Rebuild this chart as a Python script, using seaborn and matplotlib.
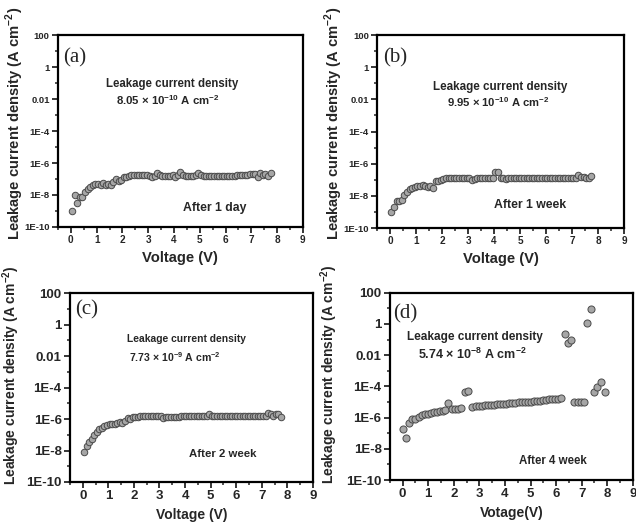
import numpy as np
import pandas as pd
import matplotlib
matplotlib.use("Agg")
import matplotlib.pyplot as plt
from matplotlib.ticker import FixedLocator, MultipleLocator, NullFormatter
import seaborn as sns

# voltage sweep used for panels (a)-(c)
sweep_v = [0.05, 0.15, 0.25, 0.35, 0.45, 0.55, 0.65, 0.75, 0.85, 0.95,
           1.05, 1.15, 1.25, 1.35, 1.45, 1.55, 1.65, 1.75, 1.85, 1.95,
           2.05, 2.15, 2.25, 2.35, 2.45, 2.55, 2.65, 2.75, 2.85, 2.95,
           3.05, 3.15, 3.25, 3.35, 3.45, 3.55, 3.65, 3.75, 3.85, 3.95,
           4.05, 4.15, 4.25, 4.35, 4.45, 4.55, 4.65, 4.75, 4.85, 4.95,
           5.05, 5.15, 5.25, 5.35, 5.45, 5.55, 5.65, 5.75, 5.85, 5.95,
           6.05, 6.15, 6.25, 6.35, 6.45, 6.55, 6.65, 6.75, 6.85, 6.95,
           7.05, 7.15, 7.25, 7.35, 7.45, 7.55, 7.65, 7.75]

# log10 of leakage current density (A cm^-2)
log_j_1day = [-9.0, -8.0, -8.5, -8.1, -8.1, -7.8, -7.65, -7.5, -7.4, -7.3,
              -7.3, -7.35, -7.25, -7.35, -7.3, -7.4, -7.2, -7.0, -7.1, -7.05,
              -6.9, -6.85, -6.8, -6.78, -6.78, -6.77, -6.78, -6.78, -6.78, -6.78,
              -6.8, -6.9, -6.8, -6.6, -6.75, -6.8, -6.8, -6.82, -6.8, -6.78,
              -6.85, -6.75, -6.55, -6.72, -6.8, -6.8, -6.82, -6.8, -6.78, -6.65,
              -6.72, -6.8, -6.8, -6.82, -6.8, -6.8, -6.82, -6.8, -6.8, -6.8,
              -6.81, -6.8, -6.8, -6.79, -6.78, -6.76, -6.75, -6.74, -6.72, -6.68,
              -6.66, -6.66, -6.9, -6.65, -6.75, -6.7, -6.8, -6.62]

log_j_1week = [-9.0, -8.7, -8.3, -8.3, -8.25, -7.95, -7.75, -7.6, -7.5, -7.45,
               -7.4, -7.38, -7.3, -7.4, -7.45, -7.38, -7.5, -7.1, -7.1, -7.0,
               -6.95, -6.9, -6.87, -6.88, -6.88, -6.88, -6.88, -6.88, -6.88, -6.9,
               -6.9, -7.0, -6.95, -6.92, -6.92, -6.92, -6.92, -6.92, -6.92, -6.9,
               -6.5, -6.52, -6.9, -6.9, -6.98, -6.92, -6.9, -6.92, -6.9, -6.9,
               -6.92, -6.92, -6.92, -6.9, -6.92, -6.92, -6.92, -6.92, -6.92, -6.92,
               -6.92, -6.92, -6.92, -6.9, -6.9, -6.9, -6.9, -6.9, -6.9, -6.9,
               -6.88, -6.9, -6.7, -6.85, -6.82, -6.9, -6.92, -6.75]

log_j_2week = [-8.1, -7.7, -7.45, -7.25, -7.0, -6.8, -6.65, -6.55, -6.45, -6.35,
               -6.3, -6.3, -6.3, -6.28, -6.2, -6.22, -6.15, -5.95, -6.0, -5.9,
               -5.88, -5.85, -5.8, -5.8, -5.8, -5.8, -5.8, -5.8, -5.8, -5.82,
               -5.82, -5.95, -5.85, -5.85, -5.85, -5.84, -5.84, -5.84, -5.83, -5.83,
               -5.83, -5.82, -5.82, -5.82, -5.82, -5.82, -5.82, -5.8, -5.78, -5.7,
               -5.78, -5.82, -5.82, -5.82, -5.82, -5.82, -5.82, -5.82, -5.82, -5.82,
               -5.82, -5.82, -5.82, -5.82, -5.8, -5.8, -5.8, -5.8, -5.8, -5.8,
               -5.8, -5.78, -5.6, -5.7, -5.8, -5.65, -5.7, -5.9]

v_4week = [0.0, 0.12, 0.25, 0.37, 0.49, 0.65, 0.76, 0.87, 0.98, 1.1,
           1.23, 1.33, 1.46, 1.57, 1.67, 1.79, 1.92, 2.05, 2.17, 2.3,
           2.43, 2.56, 2.72, 2.85, 2.97, 3.09, 3.21, 3.33, 3.45, 3.57,
           3.69, 3.81, 3.93, 4.05, 4.17, 4.29, 4.41, 4.53, 4.65, 4.77,
           4.89, 5.01, 5.13, 5.25, 5.37, 5.49, 5.61, 5.73, 5.85, 5.97,
           6.09, 6.19, 6.34, 6.47, 6.57, 6.71, 6.84, 6.97, 7.1, 7.22,
           7.35, 7.48, 7.61, 7.74, 7.9]
log_j_4week = [-6.75, -7.3, -6.35, -6.1, -6.1, -5.95, -5.85, -5.8, -5.77, -5.7,
               -5.67, -5.63, -5.6, -5.57, -5.52, -5.05, -5.45, -5.45, -5.43, -5.38,
               -4.35, -4.3, -5.3, -5.27, -5.25, -5.23, -5.22, -5.2, -5.19, -5.17,
               -5.15, -5.14, -5.12, -5.1, -5.09, -5.07, -5.05, -5.03, -5.02, -5.0,
               -4.99, -4.97, -4.95, -4.93, -4.91, -4.88, -4.85, -4.84, -4.83, -4.82,
               -4.8, -4.75, -0.65, -1.2, -1.05, -5.0, -5.0, -5.0, -5.0, 0.05,
               0.95, -4.35, -4.05, -3.75, -4.35]

panel_tags = ["(a)", "(b)", "(c)", "(d)"]
ages = ["After 1 day", "After 1 week", "After 2 week", "After 4 week"]
mantissa = ["8.05", "9.95", "7.73", "5.74"]
exponent = ["-10", "-10", "-9", "-8"]
xlabels = ["Voltage (V)", "Voltage (V)", "Voltage (V)", "Votage(V)"]
ytick_vals = [1e2, 1, 1e-2, 1e-4, 1e-6, 1e-8, 1e-10]
ytick_text = ["100", "1", "0.01", "1E-4", "1E-6", "1E-8", "1E-10"]

sns.set_style("ticks")
plt.rcParams['font.family'] = ['Liberation Sans', 'DejaVu Sans']
plt.rcParams['font.weight'] = 'bold'
plt.rcParams['mathtext.fontset'] = 'custom'
plt.rcParams['mathtext.rm'] = 'Liberation Sans:bold'
plt.rcParams['mathtext.bf'] = 'Liberation Sans:bold'

fig = plt.figure(figsize=(6.36, 5.23), dpi=100)

# axes boxes (left, bottom, width, height) in figure fraction
boxes = [
    [0.0912, 0.566, 0.385, 0.367],
    [0.593, 0.564, 0.388, 0.369],
    [0.110, 0.0784, 0.382, 0.361],
    [0.613, 0.0822, 0.382, 0.358],
]
# per panel text layout and font sizes
layout = [
    dict(tag=(0.02, 0.88), title=(0.465, 0.745), value=(0.45, 0.66), age=(0.64, 0.10),
         ylab=(-0.178, 0.54), xlab=-0.16, yt=6.8, xt=7.2, lab=10.6,
         fs_title=8.3, fs_value=8.2, fs_age=8.8),
    dict(tag=(0.025, 0.88), title=(0.50, 0.73), value=(0.49, 0.65), age=(0.62, 0.12),
         ylab=(-0.176, 0.54), xlab=-0.16, yt=6.8, xt=7.2, lab=10.6,
         fs_title=8.4, fs_value=8.1, fs_age=8.8),
    dict(tag=(0.02, 0.91), title=(0.48, 0.757), value=(0.43, 0.66), age=(0.63, 0.15),
         ylab=(-0.24, 0.566), xlab=-0.175, yt=9.5, xt=9.5, lab=10,
         fs_title=7.4, fs_value=7.6, fs_age=8.2),
    dict(tag=(0.015, 0.89), title=(0.35, 0.765), value=(0.34, 0.67), age=(0.67, 0.10),
         ylab=(-0.25, 0.566), xlab=-0.176, yt=9.5, xt=9.5, lab=10,
         fs_title=8.5, fs_value=9.0, fs_age=8.3),
]

series = [
    (sweep_v, log_j_1day),
    (sweep_v, log_j_1week),
    (sweep_v, log_j_2week),
    (v_4week, log_j_4week),
]

for i, (v, logj) in enumerate(series):
    ax = fig.add_axes(boxes[i])
    lo = layout[i]
    df = pd.DataFrame({'V': v, 'J': np.power(10.0, logj)})
    sns.scatterplot(data=df, x='V', y='J', ax=ax, s=22 if i < 3 else 26,
                    color='#a6a6a6', edgecolor='#4a4a4a', linewidth=0.7,
                    legend=False, zorder=3)
    ax.set_yscale('log')
    ax.set_ylim(1e-10, 1e2)
    ax.set_xlim(-0.5, 9)

    ax.yaxis.set_major_locator(FixedLocator(ytick_vals))
    ax.set_yticklabels(ytick_text)
    ax.yaxis.set_minor_locator(FixedLocator([1e1, 1e-1, 1e-3, 1e-5, 1e-7, 1e-9]))
    ax.yaxis.set_minor_formatter(NullFormatter())
    ax.xaxis.set_major_locator(MultipleLocator(1))
    ax.xaxis.set_minor_locator(MultipleLocator(0.5))

    ax.tick_params(which='major', direction='out', length=4, width=1.3, pad=2)
    ax.tick_params(which='minor', direction='out', length=2.5, width=1.1)
    ax.tick_params(axis='y', which='major', labelsize=lo['yt'])
    ax.tick_params(axis='x', which='major', labelsize=lo['xt'])
    for lbl in ax.get_xticklabels() + ax.get_yticklabels():
        lbl.set_fontweight('bold')
    for sp in ax.spines.values():
        sp.set_linewidth(1.6)
        sp.set_color('black')

    ax.set_xlabel(xlabels[i], fontsize=lo['lab'], fontweight='bold', va='center')
    ax.set_ylabel(r'Leakage current density (A cm$^{\mathbf{-2}}$)',
                  fontsize=lo['lab'], fontweight='bold', va='center')
    ax.xaxis.set_label_coords(0.5, lo['xlab'])
    ax.yaxis.set_label_coords(*lo['ylab'])

    ax.text(lo['tag'][0], lo['tag'][1], panel_tags[i], transform=ax.transAxes,
            family=['Liberation Serif', 'DejaVu Serif'], fontweight='normal',
            fontsize=15, ha='left', va='center')
    ax.text(lo['title'][0], lo['title'][1], 'Leakage current density',
            transform=ax.transAxes, fontsize=lo['fs_title'], fontweight='bold',
            ha='center', va='center')
    ax.text(lo['value'][0], lo['value'][1],
            mantissa[i] + r' × 10$^{\mathbf{' + exponent[i] + r'}}$ A cm$^{\mathbf{-2}}$',
            transform=ax.transAxes, fontsize=lo['fs_value'], fontweight='bold',
            ha='center', va='center')
    ax.text(lo['age'][0], lo['age'][1], ages[i], transform=ax.transAxes,
            fontsize=lo['fs_age'], fontweight='bold', ha='center', va='center')

fig.savefig('out.png', dpi=100)
